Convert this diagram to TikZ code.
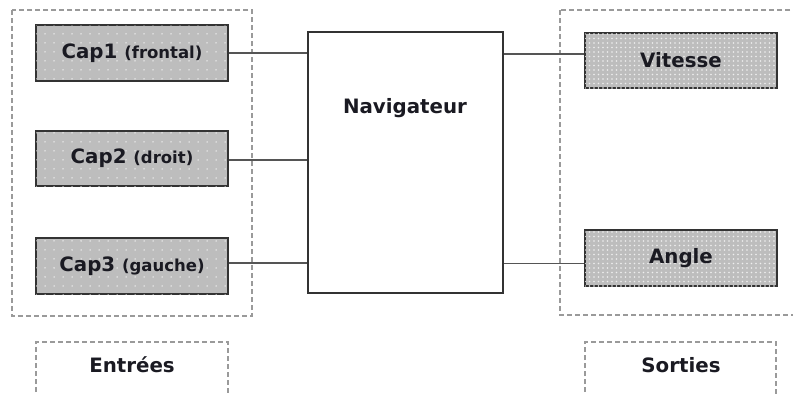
\documentclass[tikz,border=0pt]{standalone}
\usepackage{fontspec}
\setmainfont{DejaVu Sans}
\usetikzlibrary{patterns.meta}
\definecolor{boxfill}{HTML}{BDBDBD}
\definecolor{dashgray}{HTML}{9A9A9A}
\definecolor{edge}{HTML}{333333}
\definecolor{wire}{HTML}{555555}
\definecolor{ink}{HTML}{1A1A22}
\tikzset{
  group/.style={draw=dashgray, line width=1.1pt, dash pattern=on 5pt off 3pt},
  inbox/.style={draw=edge, line width=1.6pt, fill=boxfill,
    minimum width=192pt, inner sep=0pt, text=ink,
    postaction={pattern={Dots[distance=9pt, radius=0.75pt]}, pattern color=white!85!boxfill}},
  outbox/.style={draw=edge, line width=1.6pt, fill=boxfill,
    minimum width=192pt, inner sep=0pt, text=ink,
    postaction={pattern={Dots[distance=4.5pt, radius=0.9pt]}, pattern color=white!75!boxfill}},
  navbox/.style={draw=edge, line width=1.6pt, fill=white,
    minimum width=195pt, minimum height=261pt, inner sep=0pt},
  wirestyle/.style={draw=wire, line width=1.4pt},
  big/.style={font=\bfseries\fontsize{19.8}{23}\selectfont},
}
\newcommand{\smalltxt}[1]{{\fontsize{16.5}{19}\selectfont #1}}
\begin{document}
\begin{tikzpicture}[x=1pt, y=-1pt]
  \useasboundingbox (0,0) rectangle (793,394);
  \clip (0,0) rectangle (793,394);

  % dashed group frames
  \draw[group] (12,10) rectangle (252,316);
  \draw[group] (560,10) rectangle (810,315);
  \draw[group] (36,400) -- (36,342) -- (228,342) -- (228,400);
  \draw[group] (585,400) -- (585,342) -- (776,342) -- (776,400);

  % inputs
  \node[inbox, minimum height=56pt, big] (cap1) at (132,53) {Cap1 \smalltxt{(frontal)}};
  \node[inbox, minimum height=55pt, big] (cap2) at (132,158.5) {Cap2 \smalltxt{(droit)}};
  \node[inbox, minimum height=56pt, big] (cap3) at (132,266) {Cap3 \smalltxt{(gauche)}};

  % central block
  \node[navbox] (nav) at (405.5,162.5) {};
  \node[big, text=ink] (navlbl) at (405,108) {Navigateur};

  % outputs
  \node[outbox, minimum height=55pt, big] (vit) at (681,60.5) {Vitesse};
  \node[outbox, minimum height=56pt, big] (ang) at (681,258) {Angle};

  % labels under the groups
  \node[big, text=ink] (entrees) at (132,365) {Entrées};
  \node[big, text=ink] (sorties) at (681,365) {Sorties};

  % wiring
  \draw[wirestyle] (cap1.east) -- (cap1.east -| nav.west);
  \draw[wirestyle] ([yshift=-1.5pt]cap2.east) -- ([yshift=-1.5pt]cap2.east -| nav.west);
  \draw[wirestyle] ([yshift=3pt]cap3.east) -- ([yshift=3pt]cap3.east -| nav.west);
  \draw[wirestyle] ([yshift=6.5pt]vit.west) -- ([yshift=6.5pt]vit.west -| nav.east);
  \draw[wirestyle] ([yshift=-5.5pt]ang.west) -- ([yshift=-5.5pt]ang.west -| nav.east);
\end{tikzpicture}
\end{document}
